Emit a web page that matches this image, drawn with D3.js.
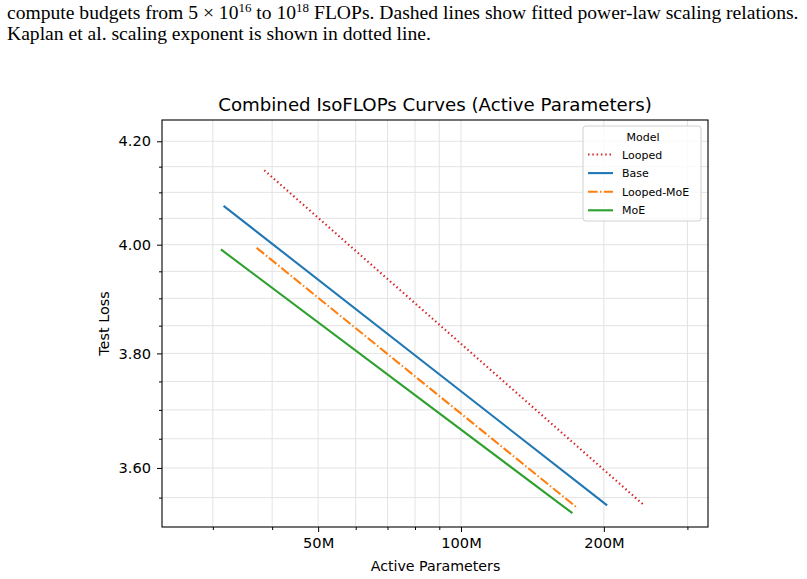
<!DOCTYPE html>
<html>
<head>
<meta charset="utf-8">
<script src="https://cdn.jsdelivr.net/npm/d3@7"></script>
<style>
  body { margin: 0; background: #fff; }
  svg { display: block; }
</style>
</head>
<body>
<svg width="807" height="579"></svg>
<script>
// series: [start, end] of each fitted line (active params, test loss)
const models = ["Looped", "Base", "Looped-MoE", "MoE"];
const paramsStart = [38.5e6, 31.6e6, 37.1e6, 31.2e6];
const paramsEnd = [242.4e6, 203.2e6, 176.3e6, 171.7e6];
const lossStart = [4.143, 4.074, 3.994, 3.991];
const lossEnd = [3.538, 3.537, 3.532, 3.524];
const colors = ["#d62728", "#1f77b4", "#ff7f0e", "#2ca02c"];
const dashes = ["1.5,2.8", null, "9.6,2.4,1.5,2.4", null];

// ticks
const xMajor = [50e6, 100e6, 200e6];
const xMajorLabels = ["50M", "100M", "200M"];
const xMinor = [30e6, 40e6, 60e6, 70e6, 80e6, 90e6, 300e6];
const yMajor = [3.6, 3.8, 4.0, 4.2];
const yMinor = [3.55, 3.65, 3.7, 3.75, 3.85, 3.9, 3.95, 4.05, 4.1, 4.15];

const svg = d3.select("svg");
const area = { left: 162, right: 708, top: 120, bottom: 527 };

// caption from the paper above the figure
const caption = svg.append("g")
    .style("font-family", "'Liberation Serif', 'Times New Roman', serif")
    .style("font-size", "19.6px")
    .attr("fill", "#000");
const l1 = caption.append("text").attr("x", 7).attr("y", 19);
l1.append("tspan").text("compute budgets from 5 × 10");
l1.append("tspan").attr("dy", -7).style("font-size", "13px").text("16");
l1.append("tspan").attr("dy", 7).text(" to 10");
l1.append("tspan").attr("dy", -7).style("font-size", "13px").text("18");
l1.append("tspan").attr("dy", 7).text(" FLOPs. Dashed lines show fitted power-law scaling relations.");
caption.append("text").attr("x", 7).attr("y", 40)
    .text("Kaplan et al. scaling exponent is shown in dotted line.");

const x = d3.scaleLog().domain([23.44e6, 331.5e6]).range([area.left, area.right]);
const y = d3.scaleLog().domain([3.5011, 4.2424]).range([area.bottom, area.top]);

const font = "'DejaVu Sans', sans-serif";

// grid
const grid = svg.append("g").attr("stroke", "#e3e3e3").attr("stroke-width", 1);
grid.selectAll(".gx").data(xMajor.concat(xMinor)).enter().append("line")
    .attr("x1", d => x(d)).attr("x2", d => x(d))
    .attr("y1", area.top).attr("y2", area.bottom);
grid.selectAll(".gy").data(yMajor.concat(yMinor)).enter().append("line")
    .attr("y1", d => y(d)).attr("y2", d => y(d))
    .attr("x1", area.left).attr("x2", area.right);

// axes
svg.append("g")
    .attr("transform", `translate(0, ${area.bottom})`)
    .call(d3.axisBottom(x).tickValues(xMajor).tickFormat((d, i) => xMajorLabels[i]).tickSize(5).tickPadding(6));
svg.append("g")
    .attr("transform", `translate(0, ${area.bottom})`)
    .call(d3.axisBottom(x).tickValues(xMinor).tickFormat("").tickSize(3));
svg.append("g")
    .attr("transform", `translate(${area.left}, 0)`)
    .call(d3.axisLeft(y).tickValues(yMajor).tickFormat(d3.format(".2f")).tickSize(5).tickPadding(6));
svg.append("g")
    .attr("transform", `translate(${area.left}, 0)`)
    .call(d3.axisLeft(y).tickValues(yMinor).tickFormat("").tickSize(3));

svg.selectAll(".tick text").style("font-family", font).style("font-size", "14.6px").attr("fill", "#000");
svg.selectAll(".domain").remove();

// lines
const line = d3.line().x(d => x(d[0])).y(d => y(d[1]));
models.forEach((m, i) => {
    svg.append("path")
        .attr("d", line([[paramsStart[i], lossStart[i]], [paramsEnd[i], lossEnd[i]]]))
        .attr("fill", "none")
        .attr("stroke", colors[i])
        .attr("stroke-width", 2.1)
        .attr("stroke-dasharray", dashes[i]);
});

// frame
svg.append("rect")
    .attr("x", area.left).attr("y", area.top)
    .attr("width", area.right - area.left).attr("height", area.bottom - area.top)
    .attr("fill", "none").attr("stroke", "#000").attr("stroke-width", 1.1);

// titles
svg.append("text").attr("x", 435).attr("y", 110.5)
    .attr("text-anchor", "middle").style("font-family", font).style("font-size", "18.2px")
    .text("Combined IsoFLOPs Curves (Active Parameters)");
svg.append("text").attr("x", 435.5).attr("y", 570.5)
    .attr("text-anchor", "middle").style("font-family", font).style("font-size", "14.2px")
    .text("Active Parameters");
svg.append("text").attr("transform", `translate(109, 323.5) rotate(-90)`)
    .attr("text-anchor", "middle").style("font-family", font).style("font-size", "14.4px")
    .text("Test Loss");

// legend
const lg = svg.append("g").attr("transform", "translate(583, 126)");
lg.append("rect").attr("width", 118).attr("height", 95).attr("rx", 3)
    .attr("fill", "#fff").attr("fill-opacity", 0.8).attr("stroke", "#d0d0d0");
lg.append("text").attr("x", 60).attr("y", 15).attr("text-anchor", "middle")
    .style("font-family", font).style("font-size", "11px").text("Model");
models.forEach((m, i) => {
    const yy = 28.5 + i * 18.6;
    lg.append("line").attr("x1", 5).attr("x2", 30).attr("y1", yy).attr("y2", yy)
        .attr("stroke", colors[i]).attr("stroke-width", 2.1).attr("stroke-dasharray", dashes[i]);
    lg.append("text").attr("x", 39).attr("y", yy + 4)
        .style("font-family", font).style("font-size", "11px").text(m);
});
</script>
</body>
</html>
